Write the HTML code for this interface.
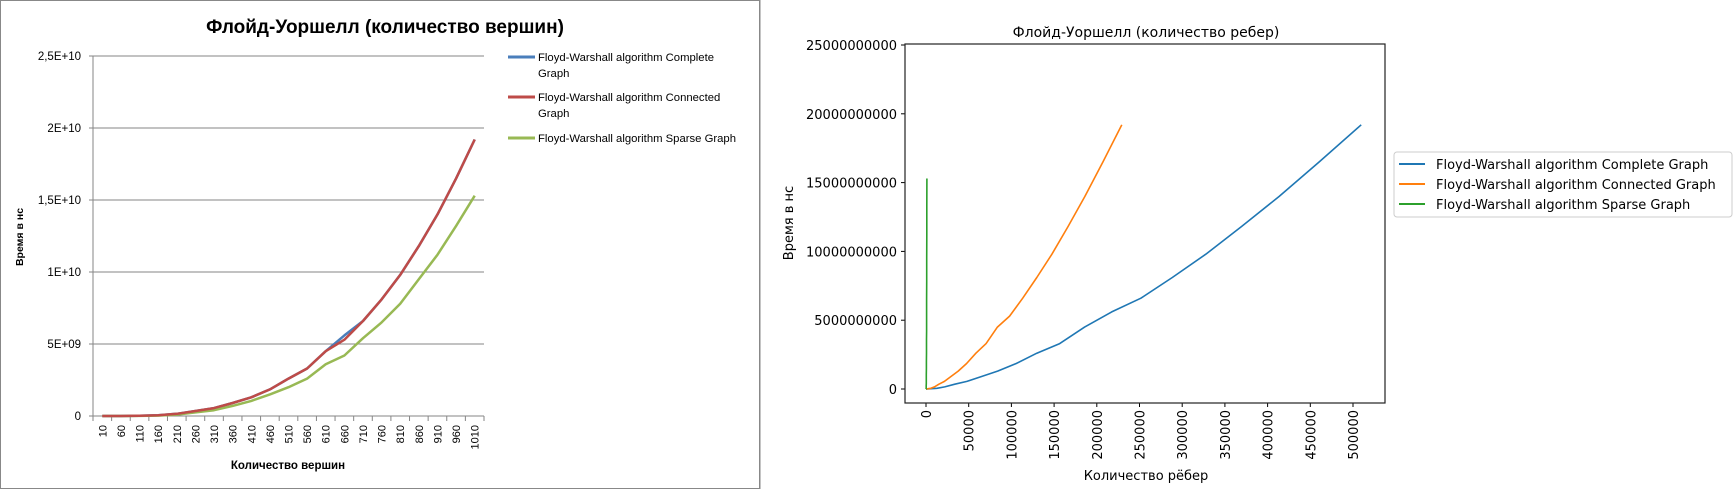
<!DOCTYPE html>
<html><head><meta charset="utf-8"><style>
body{margin:0;background:#fff;width:1736px;height:500px;overflow:hidden}
svg{display:block}
</style></head><body>
<svg id="s" width="1736" height="500" xmlns="http://www.w3.org/2000/svg">
<g id="left"></g>
<g id="right"></g>
</svg>
<script>
// Left chart data (time in units of 1e9 ns)
const vertCategories = [10,60,110,160,210,260,310,360,410,460,510,560,610,660,710,760,810,860,910,960,1010];
const vertComplete  = [0,0,0.02,0.05,0.15,0.35,0.55,0.9,1.3,1.85,2.6,3.3,4.5,5.6,6.6,8.1,9.8,11.8,14.0,16.5,19.2];
const vertConnected = [0,0,0.02,0.05,0.15,0.35,0.55,0.9,1.3,1.85,2.6,3.3,4.5,5.3,6.6,8.1,9.8,11.8,14.0,16.5,19.2];
const vertSparse    = [0,0,0.01,0.03,0.1,0.25,0.4,0.7,1.05,1.5,2.0,2.6,3.6,4.2,5.4,6.5,7.8,9.5,11.2,13.2,15.3];
const leftYTicks = [0,5,10,15,20,25];
const leftYLabels = ["0","5E+09","1E+10","1,5E+10","2E+10","2,5E+10"];
// Right chart data
const edgesComplete  = [45,1770,5995,12720,21945,33670,47895,64620,83845,105570,129795,156520,185745,217470,251695,288420,327645,369370,413595,460320,509545];
const edgesConnected = [20,800,2700,5720,9880,15150,21550,29080,37730,47500,58410,70430,83590,97860,113260,129790,147440,166220,186120,207140,229300];
const edgesSparse    = [9,59,109,159,209,259,309,359,409,459,509,559,609,659,709,759,809,859,909,959,1009];
const rightYTicks = [0,5000000000,10000000000,15000000000,20000000000,25000000000];
const rightXTicks = [0,50000,100000,150000,200000,250000,300000,350000,400000,450000,500000];

const NS="http://www.w3.org/2000/svg";
function mk(parent,tag,attrs,text){const e=document.createElementNS(NS,tag);for(const k in attrs)e.setAttribute(k,attrs[k]);if(text!==undefined)e.textContent=text;parent.appendChild(e);return e;}

// ---------- LEFT ----------
const L=document.getElementById('left');
const lx0=93,lx1=484,ly0=416,ly1=56;
const lys=v=>ly0-(v/25)*(ly0-ly1);
const band=(lx1-lx0)/vertCategories.length;
const lxs=i=>lx0+band*(i+0.5);
let e=mk(L,'rect',{x:0.5,y:0.5,width:759,height:488,fill:'#fff',stroke:'#888','stroke-width':1});

e=mk(L,'text',{x:385,y:33,'text-anchor':'middle','font-family':'Liberation Sans, sans-serif','font-size':19,'font-weight':'bold'},'Флойд-Уоршелл (количество вершин)');

leftYTicks.forEach((t,i)=>{
  const y=lys(t);
  const g=mk(L,'line',{x1:lx0-4,x2:lx1,y1:y,y2:y,stroke:'#868686','stroke-width':1});
  
  const tx=mk(L,'text',{x:81,y:y+4,'text-anchor':'end','font-family':'Liberation Sans, sans-serif','font-size':11.5},leftYLabels[i]);
  
});
e=mk(L,'line',{x1:lx0,x2:lx0,y1:ly1,y2:ly0,stroke:'#868686'});

for(let i=0;i<=vertCategories.length;i++){
  const x=lx0+band*i;
  const tk=mk(L,'line',{x1:x,x2:x,y1:ly0,y2:ly0+5,stroke:'#868686'});
  
}
vertCategories.forEach((c,i)=>{
  const x=lxs(i);
  const t=mk(L,'text',{transform:`translate(${x+4},425) rotate(-90)`,'text-anchor':'end','font-family':'Liberation Sans, sans-serif','font-size':11},String(c));
  
});
e=mk(L,'text',{x:288,y:469,'text-anchor':'middle','font-family':'Liberation Sans, sans-serif','font-size':11.5,'font-weight':'bold'},'Количество  вершин');

e=mk(L,'text',{transform:'translate(23,237) rotate(-90)','text-anchor':'middle','font-family':'Liberation Sans, sans-serif','font-size':10.5,'font-weight':'bold'},'Время  в нс');

function lpath(vals,col,name){
  const d=vals.map((v,i)=>(i?'L':'M')+lxs(i).toFixed(1)+','+lys(v).toFixed(1)).join(' ');
  const p=mk(L,'path',{d,fill:'none',stroke:col,'stroke-width':2.5,'stroke-linejoin':'round'});
  
}
lpath(vertComplete,'#4a7ebb','left-series-complete');
lpath(vertSparse,'#98b954','left-series-sparse');
lpath(vertConnected,'#be4b48','left-series-connected');
const lleg=[['#4a7ebb',['Floyd-Warshall algorithm Complete','Graph'],57],['#be4b48',['Floyd-Warshall algorithm Connected','Graph'],97],['#98b954',['Floyd-Warshall algorithm Sparse Graph'],138]];
lleg.forEach(([c,lines,y])=>{
  const g=mk(L,'g',{});
  
  mk(g,'line',{x1:508,x2:535,y1:y,y2:y,stroke:c,'stroke-width':3});
  lines.forEach((s,k)=>mk(g,'text',{x:538,y:y+4+k*16,'font-family':'Liberation Sans, sans-serif','font-size':11.3},s));
});

// ---------- RIGHT ----------
const R=document.getElementById('right');
const rx0=905,rx1=1385,ry0=403,ry1=44;
const rxs=v=>926+(v/500000)*(1353-926);
const rys=v=>389-(v/25000000000)*(389-45);
e=mk(R,'line',{x1:760,x2:760,y1:0,y2:489,stroke:'#888'});

e=mk(R,'text',{x:1146,y:37,'text-anchor':'middle','font-family':'DejaVu Sans, sans-serif','font-size':14},'Флойд-Уоршелл (количество ребер)');

rightYTicks.forEach(t=>{
  const y=rys(t);
  const tk=mk(R,'line',{x1:rx0-4,x2:rx0,y1:y,y2:y,stroke:'#000'});
  
  const tx=mk(R,'text',{x:rx0-8,y:y+5,'text-anchor':'end','font-family':'DejaVu Sans, sans-serif','font-size':13},String(t));
  
});
rightXTicks.forEach(t=>{
  const x=rxs(t);
  const tk=mk(R,'line',{x1:x,x2:x,y1:ry0,y2:ry0+4,stroke:'#000'});
  
  const tx=mk(R,'text',{transform:`translate(${x+5},410) rotate(-90)`,'text-anchor':'end','font-family':'DejaVu Sans, sans-serif','font-size':13},String(t));
  
});
e=mk(R,'text',{x:1146,y:480,'text-anchor':'middle','font-family':'DejaVu Sans, sans-serif','font-size':13},'Количество рёбер');

e=mk(R,'text',{transform:'translate(793,223) rotate(-90)','text-anchor':'middle','font-family':'DejaVu Sans, sans-serif','font-size':13},'Время в нс');

function rpath(xs,vals,col,name){
  const d=vals.map((v,i)=>(i?'L':'M')+rxs(xs[i]).toFixed(1)+','+rys(v*1e9).toFixed(1)).join(' ');
  const p=mk(R,'path',{d,fill:'none',stroke:col,'stroke-width':1.6,'stroke-linejoin':'round'});
  
}
rpath(edgesComplete,vertComplete,'#1f77b4','right-series-complete');
rpath(edgesConnected,vertConnected,'#ff7f0e','right-series-connected');
rpath(edgesSparse,vertSparse,'#2ca02c','right-series-sparse');
e=mk(R,'rect',{x:rx0,y:ry1,width:rx1-rx0,height:ry0-ry1,fill:'none',stroke:'#222','stroke-width':1.2});

const lg=mk(R,'g',{});

mk(lg,'rect',{x:1394,y:152,width:338,height:65,rx:3,fill:'#fff',stroke:'#ccc'});
[['#1f77b4','Floyd-Warshall algorithm Complete Graph',164],['#ff7f0e','Floyd-Warshall algorithm Connected Graph',184],['#2ca02c','Floyd-Warshall algorithm Sparse Graph',204]].forEach(([c,s,y])=>{
  const g=mk(lg,'g',{});
  
  mk(g,'line',{x1:1399,x2:1425,y1:y,y2:y,stroke:c,'stroke-width':2});
  mk(g,'text',{x:1436,y:y+5,'font-family':'DejaVu Sans, sans-serif','font-size':13},s);
});
</script>
</body></html>
